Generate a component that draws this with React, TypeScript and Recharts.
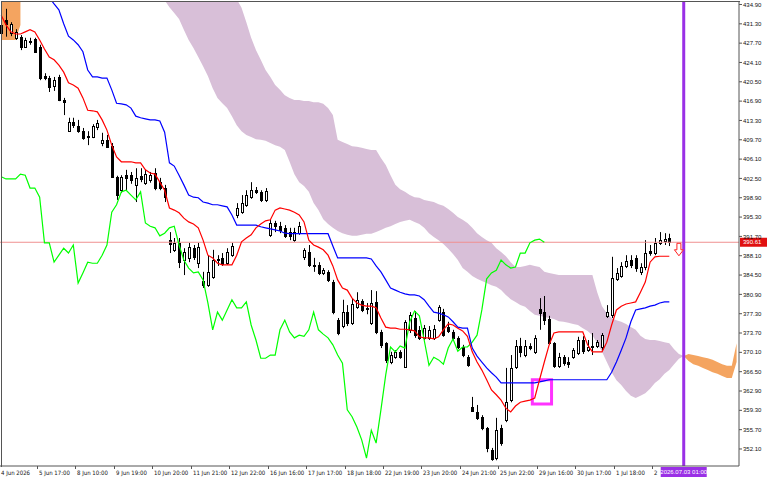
import React from 'react'
import { Area, Bar, ComposedChart, Line, ReferenceArea, ReferenceDot, ReferenceLine, XAxis, YAxis } from 'recharts'

// hourly candles, index 0 = 4 Jun 2026
const opens = [
  429.6, 432.0, 429.6, 428.7, 428.9, 427.0, 428.0, 428.5, 427.0, 421.6,
  421.2, 419.7, 421.4, 417.1, 411.3, 413.0, 412.3, 411.3, 410.4, 410.2,
  412.1, 409.1, 409.7, 408.5, 402.8, 400.3, 403.1, 403.1, 401.3, 403.0,
  401.7, 402.2, 403.5, 401.8, 400.7, 391.0, 389.2, 390.5, 387.3, 387.7,
  389.5, 386.7, 383.4, 382.6, 384.1, 387.3, 387.7, 386.7, 388.2, 395.7,
  396.2, 397.6, 399.0, 400.3, 400.0, 398.5, 392.0, 394.2, 393.6, 393.3,
  392.5, 391.0, 392.3, 387.9, 388.8, 386.4, 386.4, 384.9, 385.1, 383.2,
  376.1, 375.0, 377.6, 375.6, 378.6, 379.7, 378.2, 375.6, 379.5, 373.9,
  371.8, 368.3, 369.2, 370.2, 367.4, 374.3, 376.5, 374.3, 372.8, 372.8,
  372.8, 376.1, 377.6, 374.8, 373.9, 372.8, 371.1, 369.2, 359.9, 359.0,
  358.1, 356.0, 351.9, 350.4, 356.0, 357.5, 361.2, 367.4, 371.3, 369.6,
  371.3, 370.2, 378.2, 377.6, 376.3, 371.8, 367.6, 369.2, 368.3, 369.2,
  370.0, 372.4, 370.5, 371.1, 371.3, 371.1, 376.9, 377.1, 383.8, 384.3,
  386.2, 387.3, 387.7, 385.1, 386.0, 389.0, 388.6, 390.5, 390.8, 391.4,
]
const highs = [
  433.1, 434.1, 431.6, 430.3, 429.2, 428.7, 428.7, 428.7, 427.4, 422.1,
  421.6, 421.4, 421.8, 417.5, 413.8, 413.8, 413.4, 411.9, 411.3, 412.6,
  413.4, 411.0, 410.6, 409.1, 403.0, 403.1, 404.1, 403.7, 404.4, 404.4,
  404.1, 403.7, 404.4, 402.6, 401.3, 392.5, 391.4, 391.4, 389.5, 390.5,
  390.1, 390.5, 385.1, 388.2, 389.2, 388.2, 388.6, 389.5, 390.5, 397.9,
  399.4, 400.3, 401.8, 400.9, 400.3, 400.7, 394.8, 394.6, 394.4, 393.8,
  393.3, 393.3, 394.4, 389.5, 390.1, 387.7, 386.9, 385.8, 385.4, 383.6,
  376.5, 379.9, 378.9, 380.2, 381.3, 380.0, 379.3, 381.7, 381.5, 374.3,
  372.0, 370.2, 370.5, 370.5, 376.1, 377.6, 377.8, 375.0, 375.2, 375.0,
  375.2, 378.9, 378.2, 375.8, 374.3, 373.1, 371.5, 369.6, 361.8, 360.3,
  358.4, 356.2, 352.3, 357.9, 356.6, 367.2, 369.6, 372.4, 372.8, 372.4,
  371.8, 373.3, 380.2, 380.6, 376.9, 372.0, 370.0, 369.6, 369.2, 370.9,
  373.0, 373.1, 372.4, 373.7, 372.4, 373.7, 378.9, 387.9, 385.8, 386.9,
  388.2, 388.2, 388.2, 386.7, 391.0, 390.1, 391.4, 392.5, 392.3, 392.2,
]
const lows = [
  429.2, 428.9, 429.0, 428.3, 426.4, 426.8, 427.4, 425.9, 420.8, 420.8,
  418.6, 418.8, 416.9, 414.3, 411.3, 411.9, 411.0, 409.7, 408.7, 410.0,
  411.5, 408.5, 408.2, 402.6, 398.5, 399.8, 400.3, 401.5, 398.1, 401.8,
  401.3, 401.7, 400.3, 400.3, 398.1, 388.6, 388.8, 385.8, 384.5, 386.9,
  387.3, 385.8, 382.1, 382.3, 383.8, 386.2, 386.2, 386.4, 387.9, 395.1,
  395.9, 397.2, 398.7, 399.6, 398.1, 398.1, 391.6, 392.5, 392.3, 391.4,
  391.0, 390.7, 392.0, 387.3, 386.0, 385.1, 384.5, 384.5, 383.2, 377.2,
  373.3, 374.6, 375.0, 375.2, 378.2, 377.6, 377.2, 375.2, 373.5, 370.9,
  368.1, 367.9, 368.9, 368.9, 367.2, 373.7, 372.8, 372.4, 372.4, 372.4,
  372.4, 375.8, 373.0, 373.7, 372.4, 370.7, 369.2, 367.4, 359.0, 357.5,
  355.6, 351.5, 349.9, 350.0, 352.7, 357.1, 360.8, 367.0, 369.2, 369.2,
  370.5, 369.8, 374.3, 375.2, 371.5, 367.2, 367.2, 367.6, 367.2, 368.9,
  369.6, 369.8, 370.2, 369.6, 370.9, 370.5, 376.5, 376.5, 383.4, 384.0,
  385.8, 385.8, 385.1, 384.5, 385.4, 388.1, 388.2, 390.1, 390.1, 389.9,
]
const closes = [
  431.1, 431.3, 431.3, 429.8, 427.0, 428.3, 428.1, 426.1, 421.2, 421.2,
  419.5, 420.8, 417.1, 416.7, 413.0, 412.5, 411.3, 410.0, 410.2, 412.3,
  412.8, 409.7, 408.4, 402.8, 399.4, 402.8, 402.6, 402.2, 402.6, 402.4,
  403.3, 403.1, 400.7, 400.7, 399.0, 390.3, 390.5, 386.9, 388.8, 389.7,
  387.9, 389.7, 382.6, 385.1, 387.3, 387.5, 386.6, 388.8, 389.9, 397.0,
  397.9, 399.4, 400.3, 400.0, 398.5, 400.2, 394.2, 393.6, 392.9, 391.8,
  391.8, 392.5, 393.6, 389.2, 386.4, 386.3, 384.9, 385.4, 383.6, 377.6,
  373.7, 377.6, 375.6, 379.1, 379.9, 378.0, 378.4, 379.3, 373.9, 371.5,
  368.7, 369.6, 370.2, 369.2, 375.8, 377.1, 373.3, 372.8, 374.6, 374.3,
  374.4, 378.6, 373.3, 374.1, 372.8, 371.1, 369.6, 367.7, 359.2, 357.9,
  356.0, 352.3, 350.2, 355.6, 353.2, 360.8, 367.2, 371.3, 370.2, 371.3,
  370.9, 372.8, 377.4, 376.1, 371.8, 367.6, 369.2, 368.1, 367.9, 370.5,
  372.4, 370.3, 371.1, 371.2, 372.0, 373.3, 377.6, 383.9, 384.9, 386.2,
  387.1, 386.4, 385.8, 386.0, 388.6, 388.6, 390.5, 391.0, 391.2, 390.6,
]

const tenkan = [
  432.9, 431.1, 429.8, 429.4, 429.4, 429.8, 430.2, 429.8, 428.3, 426.6,
  425.1, 424.6, 423.6, 422.3, 420.3, 419.9, 419.3, 417.5, 415.2, 415.1,
  414.9, 413.4, 411.5, 408.7, 406.5, 405.6, 405.6, 405.6, 405.4, 405.4,
  404.1, 403.5, 403.3, 401.8, 400.3, 397.0, 396.6, 396.1, 395.1, 394.4,
  394.0, 393.3, 391.0, 388.2, 387.7, 386.7, 386.4, 386.4, 386.4, 388.2,
  390.7, 391.4, 392.0, 393.3, 394.0, 394.6, 394.8, 396.6, 397.0, 396.8,
  396.6, 396.2, 395.7, 394.4, 391.0, 390.1, 389.7, 389.2, 388.2, 386.2,
  383.6, 382.1, 381.7, 380.2, 379.3, 378.9, 378.7, 378.7, 378.4, 376.5,
  374.8, 374.6, 374.6, 374.4, 374.4, 374.3, 374.1, 373.0, 372.8, 372.8,
  372.6, 373.0, 374.3, 375.4, 375.2, 374.6, 374.1, 373.1, 370.2, 368.3,
  366.8, 365.0, 363.1, 362.2, 361.2, 359.7, 359.0, 360.1, 360.8, 361.0,
  361.2, 361.6, 365.0, 368.3, 371.5, 373.7, 373.9, 373.9, 373.9, 373.9,
  373.9, 373.9, 371.5, 370.2, 370.2, 370.2, 372.0, 375.2, 378.0, 378.7,
  379.1, 379.3, 379.5, 381.3, 383.2, 386.9, 387.9, 388.0, 388.0, 388.0,
]
const kijun = [
  null, null, null, null, null, null, null, null, null, 437.5,
  436.2, 435.0, 433.9, 431.3, 429.0, 428.3, 427.4, 426.1, 422.7, 421.4,
  421.4, 421.2, 421.2, 419.0, 416.5, 416.4, 416.2, 415.6, 414.1, 413.8,
  413.6, 413.4, 413.4, 413.2, 411.1, 405.4, 404.8, 403.1, 401.3, 399.4,
  399.0, 398.9, 398.1, 397.9, 397.6, 397.6, 397.4, 397.2, 395.7, 393.8,
  393.8, 393.8, 393.8, 393.8, 393.5, 393.3, 393.1, 392.9, 392.7, 392.3,
  392.2, 392.2, 392.2, 392.2, 392.2, 392.2, 392.2, 392.2, 392.2, 389.9,
  387.7, 387.7, 387.7, 387.7, 387.7, 387.7, 387.7, 387.5, 386.2, 385.1,
  383.6, 382.1, 381.7, 381.3, 381.0, 380.8, 380.8, 380.6, 379.9, 378.7,
  377.6, 377.4, 377.1, 376.7, 375.8, 374.8, 374.6, 374.6, 370.9, 369.4,
  368.3, 367.2, 366.3, 365.5, 364.4, 364.4, 364.4, 364.4, 364.4, 364.4,
  364.4, 364.4, 364.6, 364.8, 365.0, 365.0, 365.0, 365.0, 365.0, 365.0,
  365.0, 365.0, 365.0, 365.0, 365.0, 365.0, 365.0, 366.4, 368.3, 370.5,
  372.8, 375.8, 378.0, 378.2, 378.4, 378.7, 378.9, 379.3, 379.5, 379.5,
]
// chikou span as drawn (close plotted 26 bars back)
const chikou = [
  402.8, 402.4, 402.4, 402.4, 403.3, 403.1, 400.7, 400.7, 399.0, 390.5,
  390.5, 386.9, 388.2, 389.5, 388.6, 390.1, 383.0, 384.9, 386.9, 386.7,
  386.7, 388.2, 390.1, 396.2, 397.6, 400.0, 400.3, 399.4, 398.5, 400.0,
  394.2, 393.6, 393.3, 391.8, 392.3, 393.3, 393.6, 390.1, 387.3, 385.8,
  384.9, 385.1, 383.6, 379.3, 374.3, 377.6, 376.1, 378.0, 379.9, 378.4,
  378.4, 379.5, 375.2, 372.4, 369.0, 369.0, 369.6, 369.6, 374.3, 376.1,
  373.9, 372.8, 373.3, 373.1, 374.3, 377.6, 374.3, 373.5, 372.8, 371.5,
  369.6, 368.1, 359.4, 358.1, 356.2, 353.8, 350.4, 355.6, 353.2, 359.4,
  365.9, 371.1, 370.2, 371.3, 370.9, 375.8, 377.8, 376.9, 372.4, 367.7,
  369.2, 368.7, 367.9, 370.9, 372.6, 370.3, 371.1, 371.1, 372.0, 373.3,
  378.0, 383.8, 384.9, 385.4, 387.3, 386.4, 385.8, 386.0, 388.6, 388.6,
  390.5, 391.0, 391.2, 390.6,
]
// senkou spans as drawn (shifted 26 bars ahead); null where the cloud is off the chart
const spanA = [
  442.0, 441.0, 440.0, 439.0, 438.0,
  null, null, null, null, null, null, null, null, null, null,
  null, null, null, null, null, null, null, null, null, null,
  null, null, null, null, null, null, null, null, null,
  435.7, 434.4, 433.3, 432.2, 430.2, 428.3, 426.8, 425.1, 423.4, 421.6,
  419.3, 417.5, 416.5, 415.6, 414.1, 412.4, 411.3, 410.6, 410.2, 409.8,
  409.7, 409.5, 409.1, 408.7, 408.4, 407.8, 405.6, 403.3, 401.8, 401.1,
  400.0, 397.9, 396.6, 394.9, 394.0, 393.3, 392.7, 392.3, 392.0, 391.8,
  391.8, 392.0, 392.2, 392.2, 392.5, 392.9, 393.3, 393.6, 394.0, 394.4,
  394.6, 394.8, 394.4, 394.0, 393.3, 392.3, 391.6, 391.0, 390.3, 389.4,
  388.4, 387.3, 385.8, 385.1, 384.3, 383.8, 383.4, 383.0, 382.6, 382.3,
  381.7, 380.8, 380.0, 379.5, 378.9, 378.6, 377.8, 377.1, 376.9, 376.7,
  376.5, 376.3, 375.9, 375.8, 375.6, 375.4, 375.2, 374.6, 374.1, 373.3,
  371.8, 370.2, 368.3, 366.4, 364.9, 364.0, 362.9, 362.0, 361.6, 362.0,
  362.5, 363.3, 364.4, 365.1, 366.1, 366.8, 367.9, 368.9, 369.4,
  369.8, 369.6, 369.4, 369.2, 369.0, 368.7, 368.3, 367.9, 367.6, 367.6, 371.8,
]
const spanB = [
  428.3, 428.3, 428.3, 428.3, 431.1,
  null, null, null, null, null, null, null, null, null, null,
  null, null, null, null, null, null, null, null, null, null,
  null, null, null, null, null, null, null, null, null,
  440.0, 440.0, 440.0, 440.0, 440.0, 440.0, 440.0, 440.0, 440.0, 440.0,
  440.0, 440.0, 440.0, 440.0, 440.0,
  435.9, 434.3, 431.6, 428.7, 426.4, 424.6, 422.7, 421.4, 419.9, 419.0,
  418.0, 417.5, 417.1, 417.1, 416.9, 416.9, 416.7, 416.7, 416.4, 415.6,
  414.3, 409.7, 409.3, 408.9, 408.5, 408.4, 408.2, 408.0, 407.8, 407.8,
  406.3, 405.0, 403.1, 401.3, 400.5, 400.0, 399.4, 399.0, 398.9, 398.5,
  398.3, 398.1, 397.7, 397.4, 396.8, 396.1, 395.3, 394.8, 394.2, 393.3,
  392.3, 391.6, 391.0, 390.5, 389.5, 388.8, 388.0, 386.9, 386.0, 386.0,
  386.2, 386.4, 386.2, 386.0, 385.1, 384.9, 384.7, 384.5, 384.5, 384.5,
  384.5, 384.5, 384.5, 384.5, 384.5, 381.3, 378.7, 377.4, 376.5, 376.1,
  375.8, 375.4, 374.8, 374.3, 373.2, 372.6, 372.4, 372.4, 372.2, 372.0,
  371.8, 370.7, 369.8, 369.4,
  368.5, 367.9, 367.6, 367.2, 366.8, 366.4, 366.1, 365.7, 365.3, 365.3, 368.3,
]

const xTickIdx = [0, 8, 16, 24, 32, 40, 48, 56, 64, 72, 80, 88, 96, 104, 112, 120, 128, 136]
const xLabels = [
  '4 Jun 2026', '5 Jun 17:00', '8 Jun 10:00', '9 Jun 19:00', '10 Jun 20:00', '11 Jun 21:00',
  '12 Jun 22:00', '16 Jun 16:00', '17 Jun 17:00', '18 Jun 18:00', '22 Jun 19:00', '23 Jun 20:00',
  '24 Jun 21:00', '25 Jun 22:00', '29 Jun 16:00', '30 Jun 17:00', '1 Jul 18:00', '2',
]
const yTicks = [
  352.1, 355.7, 359.3, 362.9, 366.5, 370.1, 373.7, 377.3, 380.9, 384.5, 388.1, 391.7,
  395.3, 398.9, 402.5, 406.1, 409.7, 413.3, 416.9, 420.5, 424.1, 427.7, 431.3, 434.9,
]
const lastPrice = 390.61
const markerIdx = 142
const markerLabel = '2026.07.03 01:00'
const arrowIdx = 141
const arrowPrice = 389.3
const boxIdx = [111, 114]
const boxPrice = [360.5, 365.0]

const data = spanA.map((a, i) => {
  const b = spanB[i]
  const has = a != null && b != null
  return {
    i,
    o: opens[i], h: highs[i], l: lows[i], c: closes[i],
    range: i < closes.length ? [lows[i], highs[i]] : null,
    tenkan: tenkan[i] ?? null,
    kijun: kijun[i] ?? null,
    chikou: chikou[i] ?? null,
    purple: has && b >= a ? [a, b] : null,
    orange: has && a >= b ? [b, a] : null,
  }
})

const Candle = (p: any) => {
  const { x, y, width, height, payload } = p
  if (!payload || payload.o == null || !isFinite(y)) return null
  const { o, h, l, c } = payload
  const top = Math.min(y, y + height)
  const bot = Math.max(y, y + height)
  const k = h === l ? 0 : (bot - top) / (h - l)
  const yo = top + (h - o) * k
  const yc = top + (h - c) * k
  const cx = Math.round(x + width / 2) + 0.5
  const bodyTop = Math.round(Math.min(yo, yc)) + 0.5
  const bodyH = Math.max(Math.round(Math.abs(yc - yo)), 1)
  const bear = c < o
  return (
    <g>
      <line x1={cx} x2={cx} y1={top} y2={bot} stroke="#000" strokeWidth={1} />
      <rect x={cx - 1} y={bodyTop} width={2} height={bodyH} fill={bear ? '#000' : '#fff'} stroke="#000" strokeWidth={1} />
    </g>
  )
}

const XTick = ({ x, y, payload }: any) => {
  const k = xTickIdx.indexOf(payload.value)
  if (k < 0) return null
  const tx = Math.round(x - 2.7) + 0.5
  return (
    <g>
      <line x1={tx} x2={tx} y1={y} y2={y + 3} stroke="#555" />
      <text x={tx + 1.5} y={y + 8.5} fontSize={6} fill="#111" fontFamily="'Liberation Sans Narrow', 'DejaVu Sans Condensed', 'Liberation Sans'">
        {xLabels[k]}
      </text>
    </g>
  )
}

const PriceTag = ({ viewBox }: any) => {
  if (!viewBox) return null
  const px = viewBox.x + viewBox.width + 1
  return (
    <g>
      <rect x={px} y={viewBox.y - 4.5} width={27} height={9} fill="#e01010" />
      <text x={px + 3} y={viewBox.y + 2} fontSize={6} fill="#fff" fontFamily="'Liberation Sans'">{lastPrice.toFixed(2)}</text>
    </g>
  )
}

const TimeTag = ({ viewBox }: any) => {
  if (!viewBox) return null
  const cx = viewBox.x
  const by = viewBox.y + viewBox.height
  return (
    <g>
      <rect x={cx - 23} y={by + 1} width={46} height={10} fill="#9a30e6" />
      <text x={cx} y={by + 8} textAnchor="middle" fontSize={6} fill="#fff" fontFamily="'Liberation Sans'">{markerLabel}</text>
    </g>
  )
}

const Arrow = ({ cx, cy }: any) => {
  if (cx == null) return null
  const d = `M${cx - 2} ${cy - 6} L${cx + 2} ${cy - 6} L${cx + 2} ${cy + 0.5} L${cx + 4.5} ${cy + 0.5} L${cx} ${cy + 6.5} L${cx - 4.5} ${cy + 0.5} L${cx - 2} ${cy + 0.5} Z`
  return <path d={d} fill="#fff" stroke="#ff2020" strokeWidth={1} />
}

function IchimokuChart() {
  return (
    <div style={{ position: 'absolute', left: 0, top: 0, width: 768, height: 480, background: '#fff' }}>
      <ComposedChart width={768} height={480} data={data} margin={{ top: 1, right: 0, bottom: 0, left: -1.2 }}>
        <XAxis
          dataKey="i"
          type="category"
          ticks={xTickIdx}
          interval={0}
          tick={<XTick />}
          tickLine={false}
          tickSize={0}
          tickMargin={0}
          height={14}
          axisLine={{ stroke: '#555' }}
        />
        <YAxis
          orientation="right"
          type="number"
          domain={[348.93, 435.55]}
          allowDataOverflow
          ticks={yTicks}
          interval={0}
          width={29}
          tickSize={3}
          tickMargin={1}
          axisLine={{ stroke: '#555' }}
          tickLine={{ stroke: '#555' }}
          tick={{ fontSize: 6, fill: '#111', fontFamily: 'Liberation Sans' }}
          tickFormatter={(v: number) => v.toFixed(2)}
        />
        <Area dataKey="purple" fill="#d8bfd8" fillOpacity={1} stroke="none" isAnimationActive={false} dot={false} activeDot={false} />
        <Area dataKey="orange" fill="#f4a460" fillOpacity={1} stroke="none" isAnimationActive={false} dot={false} activeDot={false} />
        <ReferenceLine y={lastPrice} stroke="#f09090" strokeWidth={1} label={PriceTag} />
        <Bar dataKey="range" shape={Candle} isAnimationActive={false} />
        <Line dataKey="chikou" stroke="#00ff00" strokeWidth={1.2} dot={false} activeDot={false} isAnimationActive={false} />
        <Line dataKey="kijun" stroke="#0000ff" strokeWidth={1.2} dot={false} activeDot={false} isAnimationActive={false} />
        <Line dataKey="tenkan" stroke="#ff0000" strokeWidth={1.2} dot={false} activeDot={false} isAnimationActive={false} />
        <ReferenceArea x1={boxIdx[0]} x2={boxIdx[1]} y1={boxPrice[0]} y2={boxPrice[1]} fill="none" stroke="#ff33ff" strokeWidth={3} />
        <ReferenceDot x={arrowIdx} y={arrowPrice} shape={Arrow} />
        <ReferenceLine x={markerIdx} stroke="#9a30e6" strokeWidth={3} label={TimeTag} />
      </ComposedChart>
      <div style={{ position: 'absolute', left: 1, top: 1, width: 738, height: 465, borderLeft: '1px solid #555', borderTop: '1px solid #555', pointerEvents: 'none' }} />
    </div>
  )
}

export default IchimokuChart
